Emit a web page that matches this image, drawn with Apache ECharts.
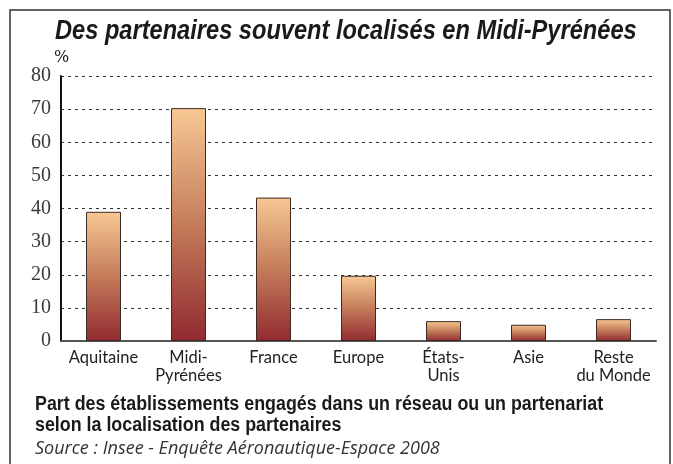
<!DOCTYPE html>
<html>
<head>
<meta charset="utf-8">
<script src="https://cdn.jsdelivr.net/npm/echarts@6/dist/echarts.min.js"></script>
<style>
  html, body { margin: 0; padding: 0; background: #fff; }
  #chart { width: 673px; height: 464px; }
</style>
</head>
<body>
<div id="chart"></div>
<script>
// donnees
var categories = ['Aquitaine', 'Midi-\nPyrénées', 'France', 'Europe', 'États-\nUnis', 'Asie', 'Reste\ndu Monde'];
var values = [39, 70.3, 43.3, 19.7, 6, 4.9, 6.6];
var yMax = 80;
var yStep = 10;

var chart = echarts.init(document.getElementById('chart'));

chart.setOption({
    animation: false,
    grid: {
        left: 61,
        right: 17,
        top: 76,
        bottom: 123
    },
    xAxis: {
        type: 'category',
        data: categories,
        axisLine: { lineStyle: { color: '#555', width: 2 } },
        axisTick: { show: false },
        axisLabel: {
            interval: 0,
            margin: 8,
            fontFamily: 'Lato, Open Sans, sans-serif',
            fontSize: 16.5,
            lineHeight: 18,
            color: '#222'
        }
    },
    yAxis: {
        type: 'value',
        min: 0,
        max: yMax,
        interval: yStep,
        name: '%',
        nameGap: 7,
        nameTextStyle: {
            fontFamily: 'DejaVu Serif, serif',
            fontSize: 16,
            color: '#222',
            align: 'left',
            padding: [0, 0, 0, -7]
        },
        axisLine: { show: true, lineStyle: { color: '#111', width: 2 } },
        axisTick: { show: false },
        axisLabel: {
            margin: 10,
            fontFamily: 'Liberation Serif, serif',
            fontSize: 20,
            color: '#3a3a3a'
        },
        splitLine: {
            lineStyle: { color: '#333', type: [3, 4], width: 1 }
        }
    },
    series: [{
        type: 'bar',
        data: values,
        barWidth: 35,
        itemStyle: {
            borderColor: '#3d2a22',
            borderWidth: 1,
            color: new echarts.graphic.LinearGradient(0, 0, 0, 1, [
                { offset: 0, color: '#f7c894' },
                { offset: 0.5, color: '#c47c5a' },
                { offset: 1, color: '#912a30' }
            ])
        }
    }],
    graphic: [
        {
            type: 'rect',
            shape: { x: 10, y: 10, width: 660, height: 470 },
            style: { fill: 'none', stroke: '#333', lineWidth: 1.5 },
            silent: true
        },
        {
            type: 'text',
            x: 55,
            y: 18,
            scaleX: 0.875,
            style: {
                text: 'Des partenaires souvent localisés en Midi-Pyrénées',
                font: 'italic bold 27px "Liberation Sans", sans-serif',
                fill: '#1a1a1a'
            }
        },
        {
            type: 'text',
            x: 35,
            y: 394,
            scaleX: 0.915,
            style: {
                text: 'Part des établissements engagés dans un réseau ou un partenariat\nselon la localisation des partenaires',
                font: 'bold 19.5px "Liberation Sans", sans-serif',
                lineHeight: 21,
                fill: '#1a1a1a'
            }
        },
        {
            type: 'text',
            x: 35,
            y: 440,
            style: {
                text: 'Source : Insee - Enquête Aéronautique-Espace 2008',
                font: 'italic 18px "Open Sans", sans-serif',
                fill: '#333'
            }
        }
    ]
});
</script>
</body>
</html>
